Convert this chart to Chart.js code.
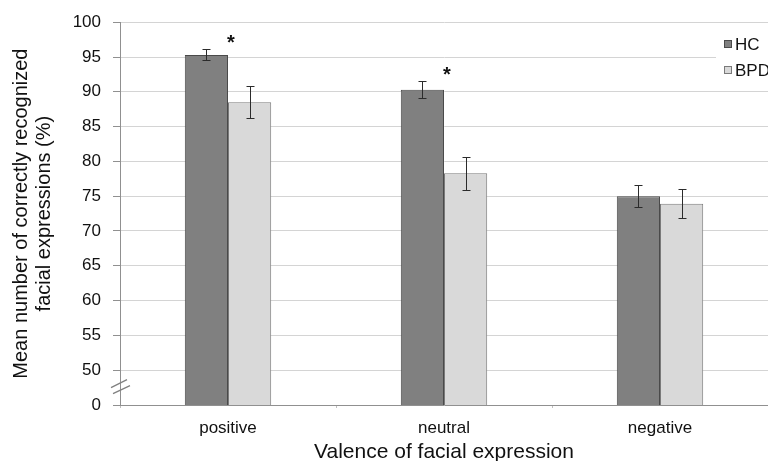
<!DOCTYPE html>
<html>
<head>
<meta charset="utf-8">
<script src="https://cdn.jsdelivr.net/npm/chart.js@4"></script>
<style>
  html, body { margin: 0; padding: 0; background: #fff; }
  #wrap { width: 768px; height: 461px; }
</style>
</head>
<body>
<div id="wrap"><canvas id="chart"></canvas></div>
<script>
'use strict';

// data
const categories = ['positive', 'neutral', 'negative'];
const hcValues   = [95.3, 90.3, 75.0];
const hcErrors   = [0.8, 1.25, 1.6];
const bpdValues  = [88.5, 78.3, 73.9];
const bpdErrors  = [2.3, 2.4, 2.1];
const significant = [true, true, false];
const yTicks = [45, 50, 55, 60, 65, 70, 75, 80, 85, 90, 95, 100];
const tickText = { 45: '0' };   // broken axis: bottom tick stands for 0

const FONT = "'Liberation Sans', Arial, sans-serif";

/* ── error bars + asterisks + axis break + legend ───── */
const extrasPlugin = {
    id: 'extras',
    afterDatasetsDraw(chart) {
        const { ctx, scales: { x, y } } = chart;
        const errs = [hcErrors, bpdErrors];
        ctx.save();
        ctx.strokeStyle = '#2b2b2b';
        ctx.lineWidth = 1;
        chart.data.datasets.forEach((ds, di) => {
            const meta = chart.getDatasetMeta(di);
            meta.data.forEach((bar, i) => {
                const v = ds.data[i], e = errs[di][i];
                const yt = Math.round(y.getPixelForValue(v + e)) + 0.5;
                const yb = Math.round(y.getPixelForValue(v - e)) + 0.5;
                const cx = Math.round(bar.x) + 0.5;
                ctx.beginPath();
                ctx.moveTo(cx, yt); ctx.lineTo(cx, yb);
                ctx.moveTo(cx - 4, yt); ctx.lineTo(cx + 4, yt);
                ctx.moveTo(cx - 4, yb); ctx.lineTo(cx + 4, yb);
                ctx.stroke();
            });
        });

        // significance asterisks
        ctx.fillStyle = '#111';
        ctx.font = 'bold 20px ' + FONT;
        ctx.textAlign = 'center';
        ctx.textBaseline = 'middle';
        significant.forEach((s, i) => {
            if (!s) return;
            const yy = y.getPixelForValue(hcValues[i] + hcErrors[i]) - 6;
            ctx.fillText('*', x.getPixelForValue(i) + 3, yy);
        });

        // axis break marks
        const yb = y.getPixelForValue(47.5);
        const ax = x.left;
        ctx.strokeStyle = '#808080';
        ctx.lineWidth = 1.3;
        ctx.beginPath();
        ctx.moveTo(ax - 9, yb + 0); ctx.lineTo(ax + 7, yb - 8);
        ctx.moveTo(ax - 7, yb + 6); ctx.lineTo(ax + 10, yb - 2);
        ctx.stroke();

        // legend inside the plot, top right
        ctx.fillStyle = '#fff';
        ctx.fillRect(716, 30, 52, 54);
        const fills = ['#808080', '#d9d9d9'];
        const borders = ['#4a4a4a', '#7a7a7a'];
        ctx.font = '17px ' + FONT;
        ctx.textAlign = 'left';
        chart.data.datasets.forEach((ds, di) => {
            const ly = 44 + di * 26;
            ctx.fillStyle = fills[di];
            ctx.fillRect(724, ly - 4, 8, 8);
            ctx.strokeStyle = borders[di];
            ctx.lineWidth = 1;
            ctx.strokeRect(724.5, ly - 3.5, 7, 7);
            ctx.fillStyle = '#111';
            ctx.fillText(ds.label, 735, ly + 1);
        });
        ctx.restore();
    }
};

new Chart(document.getElementById('chart'), {
    type: 'bar',
    data: {
        labels: categories,
        datasets: [
            {
                label: 'HC',
                data: hcValues,
                backgroundColor: '#808080',
                borderColor: '#4a4a4a',
                borderWidth: 1,
                categoryPercentage: 0.4,
                barPercentage: 1.0,
            },
            {
                label: 'BPD',
                data: bpdValues,
                backgroundColor: '#d9d9d9',
                borderColor: '#7a7a7a',
                borderWidth: 1,
                categoryPercentage: 0.4,
                barPercentage: 1.0,
            }
        ]
    },
    options: {
        responsive: true, maintainAspectRatio: false,
        animation: false,
        layout: { padding: { top: 20, right: 0, left: 0, bottom: 0 } },
        plugins: {
            legend: { display: false },
            tooltip: { enabled: false }
        },
        scales: {
            x: {
                grid: { display: true, drawOnChartArea: false, color: '#c0c0c0', tickLength: 3, offset: true },
                border: { color: '#909090' },
                ticks: { color: '#111', font: { family: FONT, size: 17 }, padding: 10 },
                title: {
                    display: true, text: 'Valence of facial expression',
                    color: '#111', font: { family: FONT, size: 21, lineHeight: 0.85 }, padding: { top: 6, bottom: 0 }
                },
                afterFit: s => { s.height = 56; }
            },
            y: {
                min: 45, max: 100,
                afterBuildTicks: s => { s.ticks = yTicks.map(v => ({ value: v })); },
                grid: {
                    color: ctx => ctx.tick && ctx.tick.value === 45 ? 'rgba(0,0,0,0)' : '#d4d4d4',
                    tickColor: '#909090', tickLength: 7
                },
                border: { color: '#909090' },
                ticks: {
                    color: '#111', font: { family: FONT, size: 17 }, padding: 12,
                    callback: v => tickText[v] ?? String(v)
                },
                title: {
                    display: true,
                    text: ['Mean number of correctly recognized', 'facial expressions (%)'],
                    color: '#111', font: { family: FONT, size: 20, lineHeight: 1.15 }, padding: { top: 10, bottom: 0 }
                },
                afterFit: s => { s.width = 120; }
            }
        }
    },
    plugins: [extrasPlugin]
});
</script>
</body>
</html>
